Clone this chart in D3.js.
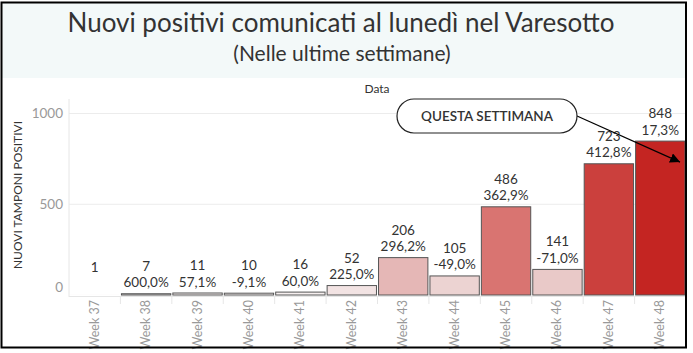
<!DOCTYPE html>
<html>
<head>
<meta charset="utf-8">
<script src="https://cdn.jsdelivr.net/npm/d3@7"></script>
<style>
  body { margin: 0; background: #fff; }
  svg { display: block; font-family: Lato, "Open Sans", sans-serif; }
</style>
</head>
<body>
<div id="chart"></div>
<script>
// weekly new positives reported on mondays
const weeks = ["Week 37", "Week 38", "Week 39", "Week 40", "Week 41", "Week 42",
               "Week 43", "Week 44", "Week 45", "Week 46", "Week 47", "Week 48"];
const positives = [1, 7, 11, 10, 16, 52, 206, 105, 486, 141, 723, 848];
const changes = ["", "600,0%", "57,1%", "-9,1%", "60,0%", "225,0%",
                 "296,2%", "-49,0%", "362,9%", "-71,0%", "412,8%", "17,3%"];
const yTicks = [0, 500, 1000];

const width = 693, height = 353;
const svg = d3.select("#chart").append("svg")
    .attr("width", width).attr("height", height);

// title band
svg.append("rect").attr("x", 2).attr("y", 3).attr("width", 683).attr("height", 75)
    .attr("fill", "#f3f9f9");
svg.append("text").attr("x", 341).attr("y", 32).attr("text-anchor", "middle")
    .attr("font-size", 26).attr("fill", "#333")
    .text("Nuovi positivi comunicati al lunedì nel Varesotto");
svg.append("text").attr("x", 342).attr("y", 61).attr("text-anchor", "middle")
    .attr("font-size", 21).attr("fill", "#333")
    .text("(Nelle ultime settimane)");

// scales
let x = d3.scaleBand().domain(weeks).range([69, 686]).paddingInner(0.04).paddingOuter(0.02);
let y = d3.scaleLinear().domain([0, 1000]).range([295, 113.5]);
let color = d3.scaleLinear()
    .domain([0, 100, 200, 500, 848])
    .range(["#f8f4f4", "#ecd4d3", "#e5b8b7", "#d8716e", "#c42522"]);

// header
svg.append("text").attr("x", 377).attr("y", 93).attr("text-anchor", "middle")
    .attr("font-size", 12).attr("fill", "#333").text("Data");

// grid
svg.selectAll(".grid").data(yTicks.filter(d => d > 0)).enter().append("line")
    .attr("class", "grid")
    .attr("x1", 69).attr("x2", 686)
    .attr("y1", d => y(d)).attr("y2", d => y(d))
    .attr("stroke", "#ececec");
svg.append("line").attr("x1", 69).attr("x2", 69).attr("y1", 99).attr("y2", 297)
    .attr("stroke", "#e6e6e6");
svg.append("line").attr("x1", 69).attr("x2", 686).attr("y1", y(0) + 1.5).attr("y2", y(0) + 1.5)
    .attr("stroke", "#e6e6e6");

// y axis labels
svg.selectAll(".ytick").data(yTicks).enter().append("text")
    .attr("class", "ytick")
    .attr("x", 63).attr("y", d => d === 0 ? y(d) - 8 : y(d))
    .attr("dy", "0.35em").attr("text-anchor", "end")
    .attr("font-size", 13.5).attr("fill", "#999")
    .text(d => d);
svg.append("text")
    .attr("transform", "translate(22,195) rotate(-90)")
    .attr("text-anchor", "middle").attr("font-size", 12).attr("fill", "#333")
    .text("NUOVI TAMPONI POSITIVI");

// x separators and labels
svg.selectAll(".sep").data(weeks.slice(1)).enter().append("line")
    .attr("class", "sep")
    .attr("x1", d => x(d) - x.step() * x.paddingInner() / 2)
    .attr("x2", d => x(d) - x.step() * x.paddingInner() / 2)
    .attr("y1", y(0) + 1.5).attr("y2", y(0) + 9)
    .attr("stroke", "#e6e6e6");
svg.selectAll(".xlab").data(weeks).enter().append("text")
    .attr("class", "xlab")
    .attr("transform", d => `translate(${x(d) + x.bandwidth() / 2 + 4},300) rotate(-90)`)
    .attr("text-anchor", "end").attr("font-size", 12.5).attr("fill", "#999")
    .text(d => d);

// bars
let data = weeks.map((w, i) => ({ week: w, value: positives[i], change: changes[i] }));
svg.selectAll(".bar").data(data).enter().append("rect")
    .attr("class", "bar")
    .attr("x", d => x(d.week)).attr("width", x.bandwidth())
    .attr("y", d => y(d.value)).attr("height", d => y(0) - y(d.value))
    .attr("fill", d => color(d.value))
    .attr("stroke", d => (y(0) - y(d.value)) < 1 ? "none" : "#555")
    .attr("stroke-width", 1);

// labels
let labels = svg.selectAll(".lab").data(data).enter().append("g").attr("class", "lab");
labels.append("text")
    .attr("x", d => x(d.week) + x.bandwidth() / 2).attr("y", d => y(d.value) - 23)
    .attr("text-anchor", "middle").attr("font-size", 13.5).attr("fill", "#333")
    .text(d => d.value);
labels.append("text")
    .attr("x", d => x(d.week) + x.bandwidth() / 2).attr("y", d => y(d.value) - 6.5)
    .attr("text-anchor", "middle").attr("font-size", 13.5).attr("fill", "#333")
    .text(d => d.change);

// annotation
svg.append("defs").append("marker")
    .attr("id", "arrow").attr("viewBox", "0 0 10 10")
    .attr("refX", 10).attr("refY", 5)
    .attr("markerWidth", 10).attr("markerHeight", 10)
    .attr("markerUnits", "userSpaceOnUse")
    .attr("orient", "auto")
    .append("path").attr("d", "M0,0L10,5L0,10Z").attr("fill", "#000");
let last = weeks[weeks.length - 1];
svg.append("line")
    .attr("x1", 577).attr("y1", 116)
    .attr("x2", x(last) + x.bandwidth() * 0.9).attr("y2", y(positives[positives.length - 1]) + 21)
    .attr("stroke", "#000").attr("stroke-width", 1.2)
    .attr("marker-end", "url(#arrow)");
svg.append("rect").attr("x", 397).attr("y", 99).attr("width", 180).attr("height", 34)
    .attr("rx", 17).attr("fill", "#fff").attr("stroke", "#222").attr("stroke-width", 1.2);
svg.append("text").attr("x", 487).attr("y", 120.5).attr("text-anchor", "middle")
    .attr("font-size", 13.5).attr("font-weight", 600).attr("fill", "#333")
    .text("QUESTA SETTIMANA");

// outer border
svg.append("rect").attr("x", 1.5).attr("y", 2.5).attr("width", 684.5).attr("height", 345)
    .attr("fill", "none").attr("stroke", "#000").attr("stroke-width", 2);
</script>
</body>
</html>
